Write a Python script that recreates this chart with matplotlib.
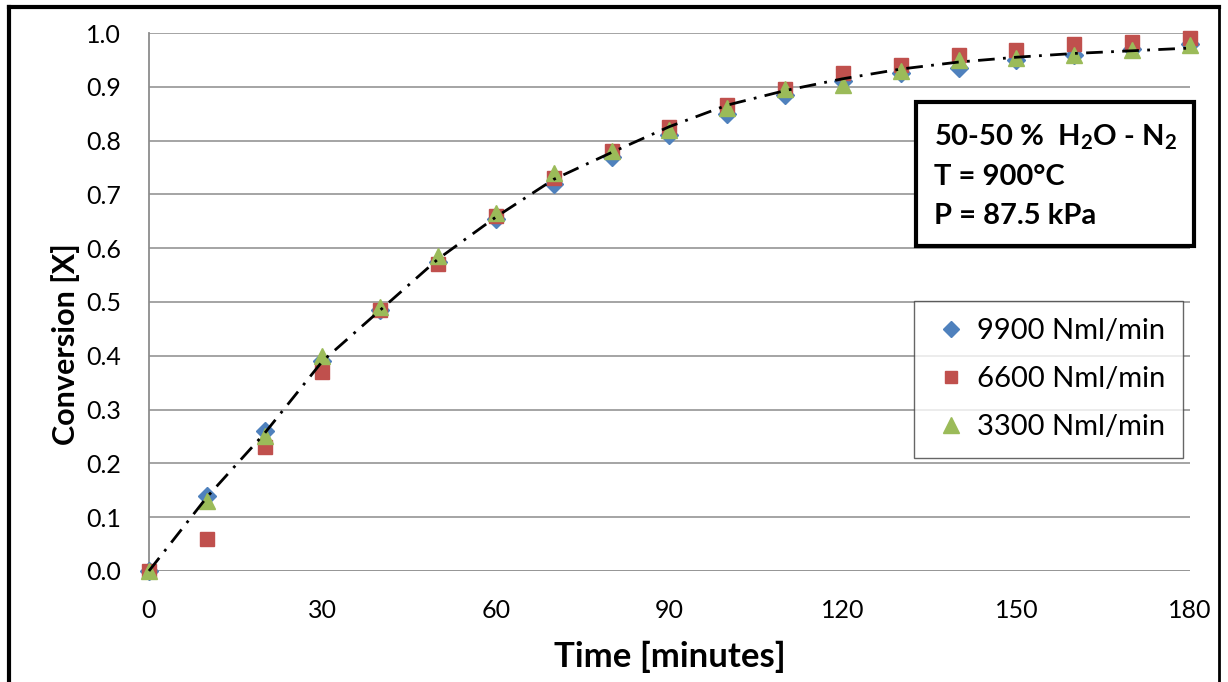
import matplotlib
matplotlib.use("Agg")
import matplotlib.pyplot as plt
from matplotlib.lines import Line2D

plt.rcParams['font.family'] = ['Lato', 'DejaVu Sans']

# time in minutes and conversion for each flow rate
time_min = [0, 10, 20, 30, 40, 50, 60, 70, 80, 90, 100, 110, 120, 130, 140, 150, 160, 170, 180]
x_9900 = [0.0, 0.14, 0.26, 0.39, 0.485, 0.575, 0.655, 0.72, 0.77, 0.81, 0.85, 0.885, 0.91, 0.925, 0.935, 0.95, 0.96, 0.97, 0.98]
x_6600 = [0.0, 0.06, 0.23, 0.37, 0.485, 0.57, 0.66, 0.73, 0.78, 0.825, 0.866, 0.895, 0.926, 0.94, 0.959, 0.968, 0.98, 0.983, 0.99]
x_3300 = [0.0, 0.13, 0.25, 0.40, 0.49, 0.585, 0.665, 0.74, 0.78, 0.82, 0.86, 0.895, 0.903, 0.93, 0.95, 0.953, 0.96, 0.968, 0.978]
x_model = [0.0, 0.137, 0.256, 0.39, 0.485, 0.58, 0.658, 0.728, 0.778, 0.826, 0.866, 0.893, 0.915, 0.933, 0.946, 0.955, 0.962, 0.967, 0.972]

series = [
    ("9900 Nml/min", x_9900, "D", "#4F81BD", 9),
    ("6600 Nml/min", x_6600, "s", "#C0504D", 10),
    ("3300 Nml/min", x_3300, "^", "#9BBB59", 12),
]

fig = plt.figure(figsize=(12.28, 6.82), dpi=100)
ax = fig.add_axes([0.1213, 0.1628, 0.8477, 0.7888])

for y in [i / 10 for i in range(1, 11)]:
    ax.axhline(y, color="#8c8c8c", lw=1.1, zorder=0)
ax.axhline(0.0, color="#8c8c8c", lw=1.3, zorder=0)

handles = []
for label, vals, mk, col, ms in series:
    ax.plot(time_min, vals, ls="none", marker=mk, ms=ms, color=col,
            markeredgecolor=col, zorder=3, clip_on=False)
    handles.append(Line2D([], [], ls="none", marker=mk, ms=ms - 1, color=col))

# fitted curve
ax.plot(time_min, x_model, color="black", lw=2.0, ls=(0, (6, 3, 1, 3)),
        zorder=4, clip_on=False)

ax.set_xlim(0, 180)
ax.set_ylim(0, 1.0)
ax.set_xticks(range(0, 181, 30))
ax.set_yticks([i / 10 for i in range(0, 11)])
ax.set_yticklabels([f"{i / 10:.1f}" for i in range(0, 11)])
ax.tick_params(length=0, labelsize=18)
ax.tick_params(axis="y", pad=20)
ax.tick_params(axis="x", pad=20)
for side in ["top", "right", "bottom"]:
    ax.spines[side].set_visible(False)
ax.spines["left"].set_color("#8c8c8c")
ax.spines["left"].set_linewidth(1.3)

ax.set_xlabel("Time [minutes]", fontsize=25, fontweight="bold", labelpad=14)
ax.set_ylabel("Conversion [X]", fontsize=22, fontweight="bold")
ax.yaxis.set_label_coords(-0.066, 0.422)

leg = ax.legend(handles, [s[0] for s in series], loc="upper left",
                bbox_to_anchor=(0.735, 0.502), fontsize=21, frameon=True,
                fancybox=False, handletextpad=0.25, handlelength=1.3,
                labelspacing=0.75, borderpad=0.6, borderaxespad=0)
leg.get_frame().set_edgecolor("#404040")
leg.get_frame().set_linewidth(1.0)

ax.text(0.754, 0.835,
        "50-50 %  H$_\\mathregular{2}$O - N$_\\mathregular{2}$\nT = 900°C\nP = 87.5 kPa",
        transform=ax.transAxes, fontsize=21, fontweight="bold", va="top",
        ha="left", linespacing=1.6,
        bbox=dict(boxstyle="square,pad=0.6", facecolor="white",
                  edgecolor="black", linewidth=3), zorder=5)

# outer frame
fig.add_artist(Line2D([0.007, 0.007], [0.0, 0.99], transform=fig.transFigure,
                      color="black", lw=3))
fig.add_artist(Line2D([0.007, 0.993], [0.99, 0.99], transform=fig.transFigure,
                      color="black", lw=3))
fig.add_artist(Line2D([0.993, 0.993], [0.0, 0.99], transform=fig.transFigure,
                      color="black", lw=2))

fig.savefig("out.png", dpi=100)
